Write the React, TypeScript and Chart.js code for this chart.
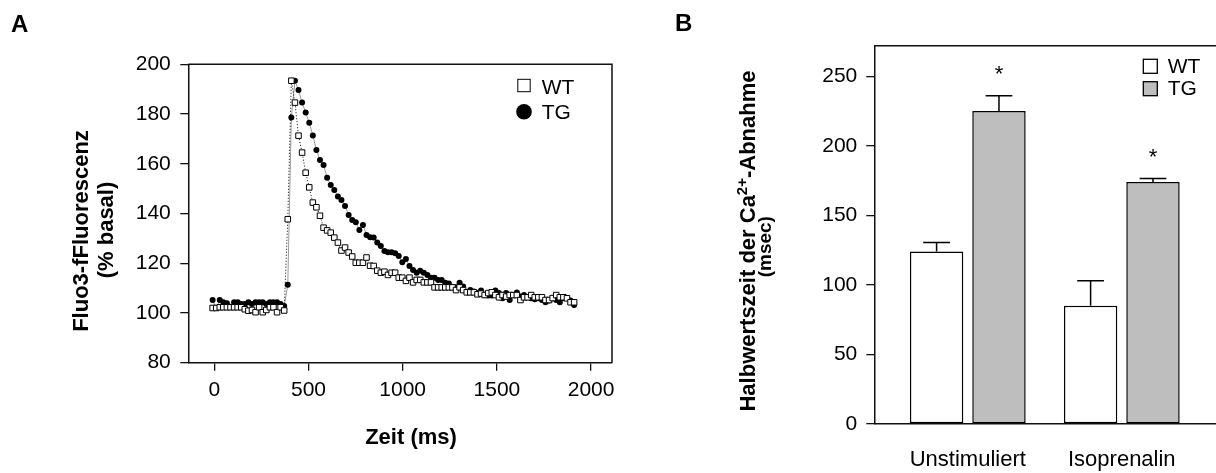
import React, { useEffect, useRef } from 'react';
import { Chart, registerables } from 'chart.js';

Chart.register(...registerables);

const FONT = '"Liberation Sans", Arial, Helvetica, sans-serif';
const H = 473;

// ---------------- Panel A: Ca2+ transient ----------------
const timeMs = [
  -9, 10, 29, 48, 67, 86, 105, 124, 143, 162,
  181, 200, 219, 238, 257, 276, 295, 314, 333, 352,
  371, 390, 409, 428, 447, 466, 485, 504, 523, 542,
  561, 580, 599, 618, 637, 656, 675, 694, 713, 732,
  751, 770, 789, 808, 827, 846, 865, 884, 903, 922,
  941, 960, 979, 998, 1017, 1036, 1055, 1074, 1093, 1112,
  1131, 1150, 1169, 1188, 1207, 1226, 1245, 1264, 1283, 1302,
  1321, 1340, 1359, 1378, 1397, 1416, 1435, 1454, 1473, 1492,
  1511, 1530, 1549, 1568, 1587, 1606, 1625, 1644, 1663, 1682,
  1701, 1720, 1739, 1758, 1777, 1796, 1815, 1834, 1853, 1872,
  1891, 1910,
];

const wtFluo = [
  102.0, 102.0, 102.3, 102.3, 102.3, 102.3, 102.3, 102.3, 102.3, 101.5,
  100.9, 101.2, 100.3, 102.3, 100.3, 101.2, 102.3, 102.3, 100.3, 102.3,
  101.0, 137.7, 193.4, 184.6, 171.3, 164.5, 156.4, 150.5, 144.4, 142.5,
  139.1, 134.3, 133.2, 132.3, 130.3, 128.3, 125.1, 126.3, 124.3, 122.7,
  120.2, 120.2, 120.2, 122.3, 119.0, 118.9, 117.0, 116.2, 116.6, 115.3,
  116.2, 116.2, 114.2, 114.2, 112.9, 114.2, 112.3, 113.3, 113.3, 112.3,
  112.3, 112.3, 110.3, 110.3, 110.3, 110.3, 110.3, 110.3, 109.2, 110.3,
  109.2, 108.3, 108.3, 108.3, 107.5, 107.8, 107.2, 108.0, 108.3, 107.2,
  106.3, 107.2, 106.6, 107.2, 107.2, 107.2, 105.2, 106.3, 106.3, 107.2,
  106.3, 106.3, 106.3, 105.2, 105.2, 106.0, 107.2, 106.3, 106.3, 105.9,
  104.3, 104.3,
];

const tgFluo = [
  105.2, 102.0, 105.2, 104.3, 103.9, 102.5, 104.3, 104.3, 103.6, 103.6,
  104.3, 103.6, 104.3, 104.3, 104.3, 103.6, 104.3, 104.3, 104.3, 103.6,
  102.8, 111.3, 178.6, 193.4, 189.7, 184.6, 180.6, 176.5, 171.4, 165.5,
  161.5, 159.5, 154.4, 151.5, 149.5, 146.8, 145.4, 143.0, 139.4, 137.4,
  136.5, 133.4, 135.4, 131.4, 130.4, 130.3, 128.3, 126.9, 124.9, 124.4,
  124.4, 124.0, 122.9, 120.4, 121.7, 118.9, 117.3, 116.2, 117.0, 116.2,
  115.3, 114.2, 114.2, 113.3, 113.3, 112.2, 111.9, 110.3, 110.3, 112.2,
  110.6, 108.3, 109.2, 108.6, 108.0, 109.0, 107.2, 107.0, 107.0, 109.0,
  108.0, 105.9, 108.0, 105.2, 107.2, 108.2, 106.6, 107.2, 106.3, 105.9,
  105.5, 105.9, 105.2, 104.3, 105.0, 105.9, 105.2, 104.3, 105.9, 105.9,
  105.0, 103.2,
];

const aXTicks = [0, 500, 1000, 1500, 2000];
const aYTicks = [80, 100, 120, 140, 160, 180, 200];
const aXRange = [-138, 2111];
const aYRange = [80, 200];
const aXTitle = 'Zeit (ms)';
const aYTitle = ['Fluo3-fFluorescenz', '(% basal)'];
const seriesNames = ['WT', 'TG'];

// ---------------- Panel B: half-time of Ca2+ decline ----------------
const conditions = ['Unstimuliert', 'Isoprenalin'];
const wtHalfTime = [124, 85];
const wtHalfTimeSem = [6.5, 18];
const tgHalfTime = [225, 174];
const tgHalfTimeSem = [11, 2.6];
const tgSignificant = [true, true];
const bYTicks = [0, 50, 100, 150, 200, 250];
const bYRange = [0, 272];
const bXRange = [-0.607, 1.7675];
const bYTitleParts = ['Halbwertszeit der Ca', '2+', '-Abnahme'];
const bYTitle2 = '(msec)';

const INK = '#111';

// Frame (top + right edges) around a chart area
const framePlugin = {
  id: 'frame',
  afterDatasetsDraw(chart: any) {
    const { ctx, chartArea } = chart;
    ctx.save();
    ctx.strokeStyle = INK;
    ctx.lineWidth = 1.5;
    ctx.beginPath();
    ctx.moveTo(chartArea.left, chartArea.top);
    ctx.lineTo(chartArea.right, chartArea.top);
    ctx.lineTo(chartArea.right, chartArea.bottom);
    ctx.stroke();
    ctx.restore();
  },
};

function rotatedText(ctx: CanvasRenderingContext2D, text: string, x: number, y: number, font: string) {
  ctx.save();
  ctx.translate(x, y);
  ctx.rotate(-Math.PI / 2);
  ctx.font = font;
  ctx.textAlign = 'center';
  ctx.textBaseline = 'alphabetic';
  ctx.fillText(text, 0, 0);
  ctx.restore();
}

const textPluginA = {
  id: 'textA',
  afterDraw(chart: any) {
    const { ctx, chartArea } = chart;
    ctx.save();
    ctx.fillStyle = '#000';
    // panel letter
    ctx.font = `bold 24px ${FONT}`;
    ctx.textAlign = 'left';
    ctx.textBaseline = 'alphabetic';
    ctx.fillText('A', 11, 31.7);
    // y title
    rotatedText(ctx, aYTitle[0], 88.3, 231, `bold 22px ${FONT}`);
    rotatedText(ctx, aYTitle[1], 112.8, 230, `bold 22px ${FONT}`);
    // x title
    ctx.font = `bold 22px ${FONT}`;
    ctx.textAlign = 'center';
    ctx.fillText(aXTitle, 411, 443.5);
    // legend
    const lx = chartArea.right - 88;
    ctx.lineWidth = 1;
    ctx.strokeStyle = '#000';
    ctx.fillStyle = '#fff';
    ctx.fillRect(lx - 6.2, 79.3, 12.4, 12.4);
    ctx.strokeRect(lx - 6.2, 79.3, 12.4, 12.4);
    ctx.fillStyle = '#000';
    ctx.beginPath();
    ctx.arc(lx, 111.7, 7.8, 0, Math.PI * 2);
    ctx.fill();
    ctx.font = `21px ${FONT}`;
    ctx.textAlign = 'left';
    ctx.fillText(seriesNames[0], lx + 17.7, 93.5);
    ctx.fillText(seriesNames[1], lx + 17.7, 119.3);
    ctx.restore();
  },
};

const semByDataset = [wtHalfTimeSem, tgHalfTimeSem];
const sigByDataset: (boolean[] | null)[] = [null, tgSignificant];

const errorBarPlugin = {
  id: 'errorBars',
  afterDatasetsDraw(chart: any) {
    const { ctx } = chart;
    const yScale = chart.scales.y;
    ctx.save();
    ctx.strokeStyle = '#000';
    ctx.fillStyle = '#000';
    ctx.lineWidth = 1.5;
    chart.data.datasets.forEach((ds: any, d: number) => {
      const meta = chart.getDatasetMeta(d);
      meta.data.forEach((el: any, i: number) => {
        const mean = ds.data[i].y;
        const top = yScale.getPixelForValue(mean + semByDataset[d][i]);
        const half = el.width / 4;
        ctx.beginPath();
        ctx.moveTo(el.x, el.y);
        ctx.lineTo(el.x, top);
        ctx.moveTo(el.x - half, top);
        ctx.lineTo(el.x + half, top);
        ctx.stroke();
        const sig = sigByDataset[d];
        if (sig && sig[i]) {
          ctx.font = `22px ${FONT}`;
          ctx.textAlign = 'center';
          ctx.textBaseline = 'alphabetic';
          ctx.fillText('*', el.x, top - 14.5);
        }
      });
    });
    ctx.restore();
  },
};

const textPluginB = {
  id: 'textB',
  afterDraw(chart: any) {
    const { ctx } = chart;
    ctx.save();
    ctx.fillStyle = '#000';
    ctx.font = `bold 24px ${FONT}`;
    ctx.textAlign = 'left';
    ctx.textBaseline = 'alphabetic';
    ctx.fillText('B', 35, 30.5);

    // y title line 1 with superscript
    const big = `bold 22px ${FONT}`;
    const small = `bold 15px ${FONT}`;
    ctx.font = big;
    const w1 = ctx.measureText(bYTitleParts[0]).width;
    const w3 = ctx.measureText(bYTitleParts[2]).width;
    ctx.font = small;
    const w2 = ctx.measureText(bYTitleParts[1]).width;
    const total = w1 + w2 + w3;
    ctx.save();
    ctx.translate(115, 241);
    ctx.rotate(-Math.PI / 2);
    ctx.textAlign = 'left';
    let sx = -total / 2;
    ctx.font = big;
    ctx.fillText(bYTitleParts[0], sx, 0);
    sx += w1;
    ctx.font = small;
    ctx.fillText(bYTitleParts[1], sx, -8);
    sx += w2;
    ctx.font = big;
    ctx.fillText(bYTitleParts[2], sx, 0);
    ctx.restore();
    rotatedText(ctx, bYTitle2, 131, 246.7, `bold 19px ${FONT}`);

    // legend
    const lx = 503.3;
    ctx.lineWidth = 1.3;
    ctx.strokeStyle = '#000';
    ctx.fillStyle = '#fff';
    ctx.fillRect(lx, 59.3, 14, 14);
    ctx.strokeRect(lx, 59.3, 14, 14);
    ctx.fillStyle = '#bebebe';
    ctx.fillRect(lx, 81.7, 14, 14);
    ctx.strokeRect(lx, 81.7, 14, 14);
    ctx.fillStyle = '#000';
    ctx.font = `21px ${FONT}`;
    ctx.fillText(seriesNames[0], lx + 24.4, 72.7);
    ctx.fillText(seriesNames[1], lx + 24.4, 95);
    ctx.restore();
  },
};

const tickFont = { family: FONT, size: 21 };

export default function App() {
  const refA = useRef<HTMLCanvasElement>(null);
  const refB = useRef<HTMLCanvasElement>(null);

  useEffect(() => {
    const chartA = new Chart(refA.current as HTMLCanvasElement, {
      type: 'line',
      data: {
        datasets: [
          {
            label: seriesNames[0],
            data: timeMs.map((t, i) => ({ x: t, y: wtFluo[i] })),
            borderColor: '#000',
            borderWidth: 1,
            borderDash: [1, 2],
            pointStyle: 'rect',
            pointRadius: 3.9,
            pointBackgroundColor: '#fff',
            pointBorderColor: '#000',
            pointBorderWidth: 1,
            tension: 0,
          },
          {
            label: seriesNames[1],
            data: timeMs.map((t, i) => ({ x: t, y: tgFluo[i] })),
            borderColor: '#9a9a9a',
            borderWidth: 1,
            pointStyle: 'circle',
            pointRadius: 3.0,
            pointBackgroundColor: '#000',
            pointBorderColor: '#000',
            pointBorderWidth: 0,
            tension: 0,
          },
        ],
      },
      options: {
        responsive: false,
        animation: false,
        devicePixelRatio: 1,
        layout: { padding: { top: 64.3, right: 28, left: 0, bottom: 0 } },
        plugins: { legend: { display: false }, tooltip: { enabled: false } },
        scales: {
          x: {
            type: 'linear',
            min: aXRange[0],
            max: aXRange[1],
            afterBuildTicks: (s: any) => {
              s.ticks = aXTicks.map((v) => ({ value: v }));
            },
            afterFit: (s: any) => {
              s.height = H - 362.7;
            },
            grid: { display: true, drawOnChartArea: false, drawTicks: true, tickLength: 8, color: INK, lineWidth: 1.3 },
            border: { display: true, color: INK, width: 1.5 },
            ticks: { color: '#000', font: tickFont, padding: 7, maxRotation: 0, autoSkip: false, callback: (v: any) => String(v) },
          },
          y: {
            type: 'linear',
            min: aYRange[0],
            max: aYRange[1],
            afterBuildTicks: (s: any) => {
              s.ticks = aYTicks.map((v) => ({ value: v }));
            },
            afterFit: (s: any) => {
              s.width = 188.3;
            },
            grid: { display: true, drawOnChartArea: false, drawTicks: true, tickLength: 8, color: INK, lineWidth: 1.3 },
            border: { display: true, color: INK, width: 1.5 },
            ticks: { color: '#000', font: tickFont, padding: 9.5, autoSkip: false, callback: (v: any) => String(v) },
          },
        },
      },
      plugins: [framePlugin, textPluginA],
    } as any);

    const chartB = new Chart(refB.current as HTMLCanvasElement, {
      type: 'bar',
      data: {
        datasets: [
          {
            label: seriesNames[0],
            data: conditions.map((_, i) => ({ x: i, y: wtHalfTime[i] })),
            backgroundColor: '#fff',
            borderColor: '#000',
            borderWidth: 1.5,
            borderSkipped: false,
            categoryPercentage: 0.81,
            barPercentage: 0.856,
          },
          {
            label: seriesNames[1],
            data: conditions.map((_, i) => ({ x: i, y: tgHalfTime[i] })),
            backgroundColor: '#bebebe',
            borderColor: '#000',
            borderWidth: 1.5,
            borderSkipped: false,
            categoryPercentage: 0.81,
            barPercentage: 0.856,
          },
        ],
      },
      options: {
        responsive: false,
        animation: false,
        devicePixelRatio: 1,
        layout: { padding: { top: 45.7, right: 20, left: 0, bottom: 0 } },
        plugins: { legend: { display: false }, tooltip: { enabled: false } },
        scales: {
          x: {
            type: 'linear',
            offset: false,
            min: bXRange[0],
            max: bXRange[1],
            afterBuildTicks: (s: any) => {
              s.ticks = conditions.map((_, i) => ({ value: i }));
            },
            afterFit: (s: any) => {
              s.height = H - 424;
            },
            grid: { display: false, drawTicks: false },
            border: { display: true, color: INK, width: 1.5 },
            ticks: { color: '#000', font: { family: FONT, size: 22 }, padding: 22.5, maxRotation: 0, autoSkip: false, callback: (v: any) => conditions[v] ?? '' },
          },
          y: {
            type: 'linear',
            min: bYRange[0],
            max: bYRange[1],
            afterBuildTicks: (s: any) => {
              s.ticks = bYTicks.map((v) => ({ value: v }));
            },
            afterFit: (s: any) => {
              s.width = 234.3;
            },
            grid: { display: true, drawOnChartArea: false, drawTicks: true, tickLength: 8, color: INK, lineWidth: 1.3 },
            border: { display: true, color: INK, width: 1.5 },
            ticks: { color: '#000', font: tickFont, padding: 9, autoSkip: false, callback: (v: any) => String(v) },
          },
        },
      },
      plugins: [framePlugin, errorBarPlugin, textPluginB],
    } as any);

    return () => {
      chartA.destroy();
      chartB.destroy();
    };
  }, []);

  return (
    <div style={{ position: 'absolute', left: 0, top: 0, width: 1216, height: H, overflow: 'hidden', background: '#fff' }}>
      <canvas ref={refA} width={640} height={H} style={{ position: 'absolute', left: 0, top: 0, width: 640, height: H }} />
      <canvas ref={refB} width={620} height={H} style={{ position: 'absolute', left: 640, top: 0, width: 620, height: H }} />
    </div>
  );
}
